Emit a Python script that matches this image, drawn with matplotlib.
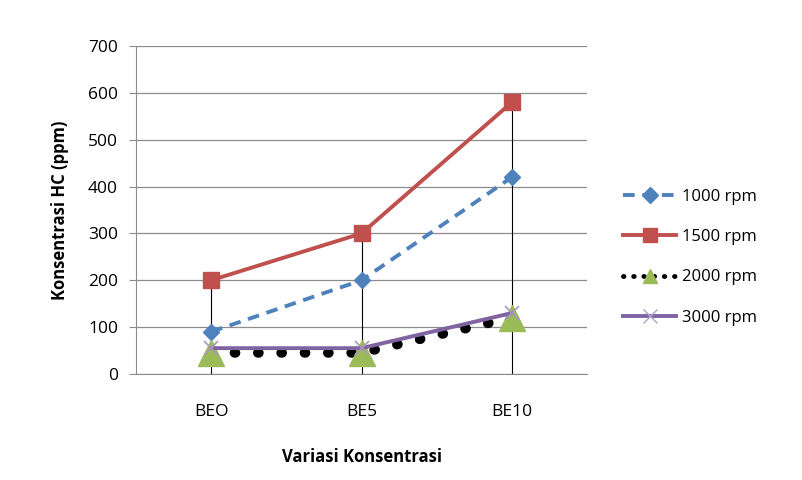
import matplotlib.pyplot as plt
from matplotlib.lines import Line2D

categories = ['BEO', 'BE5', 'BE10']
rpm_1000 = [90, 200, 420]
rpm_1500 = [200, 300, 580]
rpm_2000 = [45, 45, 120]
rpm_3000 = [55, 55, 130]
y_ticks = [0, 100, 200, 300, 400, 500, 600, 700]

plt.rcParams['font.family'] = ['Open Sans', 'DejaVu Sans']

fig = plt.figure(figsize=(8.02, 4.8), dpi=100)
ax = fig.add_axes([0.1696, 0.221, 0.5624, 0.683])

x = list(range(len(categories)))

# drop lines up to highest value per category
tops = [max(v) for v in zip(rpm_1000, rpm_1500, rpm_2000, rpm_3000)]
ax.vlines(x, 0, tops, colors='black', linewidth=0.8, zorder=2)

ax.plot(x, rpm_1000, color='#4F81BD', linestyle=(0, (3, 2)), linewidth=2.8,
        marker='D', markersize=8, zorder=4)
ax.plot(x, rpm_1500, color='#C0504D', linewidth=2.8,
        marker='s', markersize=11, zorder=4)
ax.plot(x, rpm_2000, color='black', linestyle=(0, (0.1, 2.3)), linewidth=7,
        dash_capstyle='round', zorder=3)
ax.plot(x, rpm_2000, linestyle='none', marker='^', markersize=19,
        markerfacecolor='#9BBB59', markeredgecolor='#9BBB59', zorder=5)
ax.plot(x, rpm_3000, color='#8064A2', linewidth=2.8,
        marker='x', markersize=10, markeredgewidth=1.2, markeredgecolor='#a898c0', zorder=6)

ax.set_xlim(-0.5, 2.5)
ax.set_ylim(0, 700)
ax.set_yticks(y_ticks)
ax.set_xticks(x)
ax.set_xticklabels(categories)
ax.yaxis.grid(True, color='#8c8c8c', linewidth=0.9)
ax.set_axisbelow(True)

for s in ['top', 'right']:
    ax.spines[s].set_visible(False)
for s in ['left', 'bottom']:
    ax.spines[s].set_color('#8c8c8c')
ax.tick_params(axis='y', colors='#8c8c8c', labelcolor='black', labelsize=12.5, length=5, pad=8)
ax.tick_params(axis='x', length=0, labelsize=12.5, pad=22)

ax.set_ylabel('Konsentrasi HC (ppm)', fontsize=12, fontweight='bold', labelpad=14)
ax.set_xlabel('Variasi Konsentrasi', fontsize=12, fontweight='bold', labelpad=20)

handles = [
    Line2D([], [], color='#4F81BD', linestyle=(0, (3, 2)), linewidth=2.8,
           marker='D', markersize=8),
    Line2D([], [], color='#C0504D', linewidth=2.8, marker='s', markersize=10),
    Line2D([], [], color='black', linestyle=(0, (0.1, 2.0)), linewidth=3.5,
           dash_capstyle='round', marker='^', markersize=10,
           markerfacecolor='#9BBB59', markeredgecolor='#9BBB59'),
    Line2D([], [], color='#8064A2', linewidth=2.8, marker='x', markersize=10,
           markeredgecolor='#b0a0c8'),
]
labels = ['1000 rpm', '1500 rpm', '2000 rpm', '3000 rpm']
fig.legend(handles, labels, loc='center left', bbox_to_anchor=(0.758, 0.464),
           frameon=False, fontsize=12, handlelength=3.2, labelspacing=1.45,
           handletextpad=0.35)

fig.savefig('out.png', dpi=100)
